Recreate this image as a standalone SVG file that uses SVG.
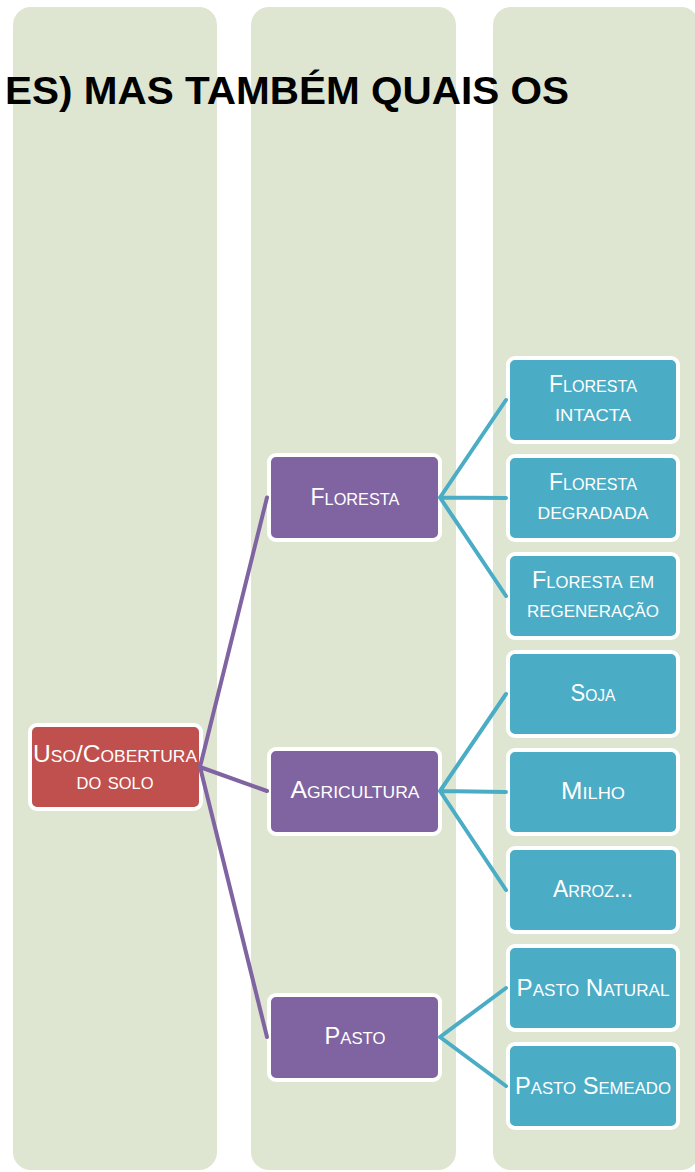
<svg xmlns="http://www.w3.org/2000/svg" width="695" height="1172" viewBox="0 0 695 1172">
<style>
.col{fill:#DEE6D2}
.box{stroke:#FFFFFF;stroke-width:4}
.root{fill:#C0504D}
.mid{fill:#8064A2}
.leaf{fill:#4BACC6}
.t{font-family:"Liberation Sans",Arial,sans-serif;font-size:24px;font-variant:small-caps;fill:#FFFFFF;text-anchor:middle}
.title{font-family:"Liberation Sans",Arial,sans-serif;font-size:39px;font-weight:bold;fill:#000000}
.cp{stroke:#8064A2;stroke-width:4;fill:none;stroke-linecap:round}
.ct{stroke:#4BACC6;stroke-width:4;fill:none;stroke-linecap:round}
</style>
<rect width="695" height="1172" fill="#FFFFFF"/>
<g id="columns">
<rect class="col" x="13" y="7" width="204" height="1163" rx="18"/>
<rect class="col" x="251" y="7" width="205" height="1163" rx="18"/>
<rect class="col" x="493" y="7" width="206" height="1163" rx="18"/>
</g>
<text id="title" class="title" x="5" y="103.5" textLength="564" lengthAdjust="spacingAndGlyphs">ES) MAS TAMBÉM QUAIS OS</text>
<g id="n-root">
<rect class="box root" x="30" y="725" width="171" height="84" rx="7"/>
<text class="t" x="115" y="762" textLength="164" lengthAdjust="spacingAndGlyphs">Uso/Cobertura</text>
<text class="t" x="115" y="789" textLength="77" lengthAdjust="spacingAndGlyphs">do solo</text>
</g>
<g id="n-floresta">
<rect class="box mid" x="269" y="455" width="171" height="85" rx="7"/>
<text class="t" x="355" y="505" textLength="89" lengthAdjust="spacingAndGlyphs">Floresta</text>
</g>
<g id="n-agricultura">
<rect class="box mid" x="269" y="749" width="171" height="85" rx="7"/>
<text class="t" x="355" y="798" textLength="129" lengthAdjust="spacingAndGlyphs">Agricultura</text>
</g>
<g id="n-pasto">
<rect class="box mid" x="269" y="995" width="171" height="85" rx="7"/>
<text class="t" x="355" y="1044" textLength="61" lengthAdjust="spacingAndGlyphs">Pasto</text>
</g>
<g id="n-floresta-intacta">
<rect class="box leaf" x="508" y="358" width="170" height="84" rx="7"/>
<text class="t" x="593" y="391.5" textLength="88" lengthAdjust="spacingAndGlyphs">Floresta</text>
<text class="t" x="593" y="421" textLength="76" lengthAdjust="spacingAndGlyphs">intacta</text>
</g>
<g id="n-floresta-degradada">
<rect class="box leaf" x="508" y="456" width="170" height="84" rx="7"/>
<text class="t" x="593" y="489.5" textLength="88" lengthAdjust="spacingAndGlyphs">Floresta</text>
<text class="t" x="593" y="519" textLength="111" lengthAdjust="spacingAndGlyphs">degradada</text>
</g>
<g id="n-floresta-regeneracao">
<rect class="box leaf" x="508" y="554" width="170" height="84" rx="7"/>
<text class="t" x="593" y="588" textLength="122" lengthAdjust="spacingAndGlyphs">Floresta em</text>
<text class="t" x="593" y="617" textLength="132" lengthAdjust="spacingAndGlyphs">regeneração</text>
</g>
<g id="n-soja">
<rect class="box leaf" x="508" y="652" width="170" height="84" rx="7"/>
<text class="t" x="593" y="701" textLength="45" lengthAdjust="spacingAndGlyphs">Soja</text>
</g>
<g id="n-milho">
<rect class="box leaf" x="508" y="750" width="170" height="84" rx="7"/>
<text class="t" x="593" y="798.5" textLength="64" lengthAdjust="spacingAndGlyphs">Milho</text>
</g>
<g id="n-arroz">
<rect class="box leaf" x="508" y="848" width="170" height="84" rx="7"/>
<text class="t" x="593" y="897" textLength="80" lengthAdjust="spacingAndGlyphs">Arroz...</text>
</g>
<g id="n-pasto-natural">
<rect class="box leaf" x="508" y="946" width="170" height="84" rx="7"/>
<text class="t" x="593" y="995.5" textLength="153" lengthAdjust="spacingAndGlyphs">Pasto Natural</text>
</g>
<g id="n-pasto-semeado">
<rect class="box leaf" x="508" y="1044" width="170" height="84" rx="7"/>
<text class="t" x="593" y="1093.5" textLength="156" lengthAdjust="spacingAndGlyphs">Pasto Semeado</text>
</g>
<g id="connectors">
<path class="cp" d="M200,767 L267,497.5 M200,767 L267,791 M200,767 L267,1037"/>
<path class="ct" d="M440,497.5 L506,400 M440,497.5 L506,498 M440,497.5 L506,596"/>
<path class="ct" d="M440,791 L506,694 M440,791 L506,792 M440,791 L506,890"/>
<path class="ct" d="M440,1037 L506,988 M440,1037 L506,1086"/>
</g>
</svg>
